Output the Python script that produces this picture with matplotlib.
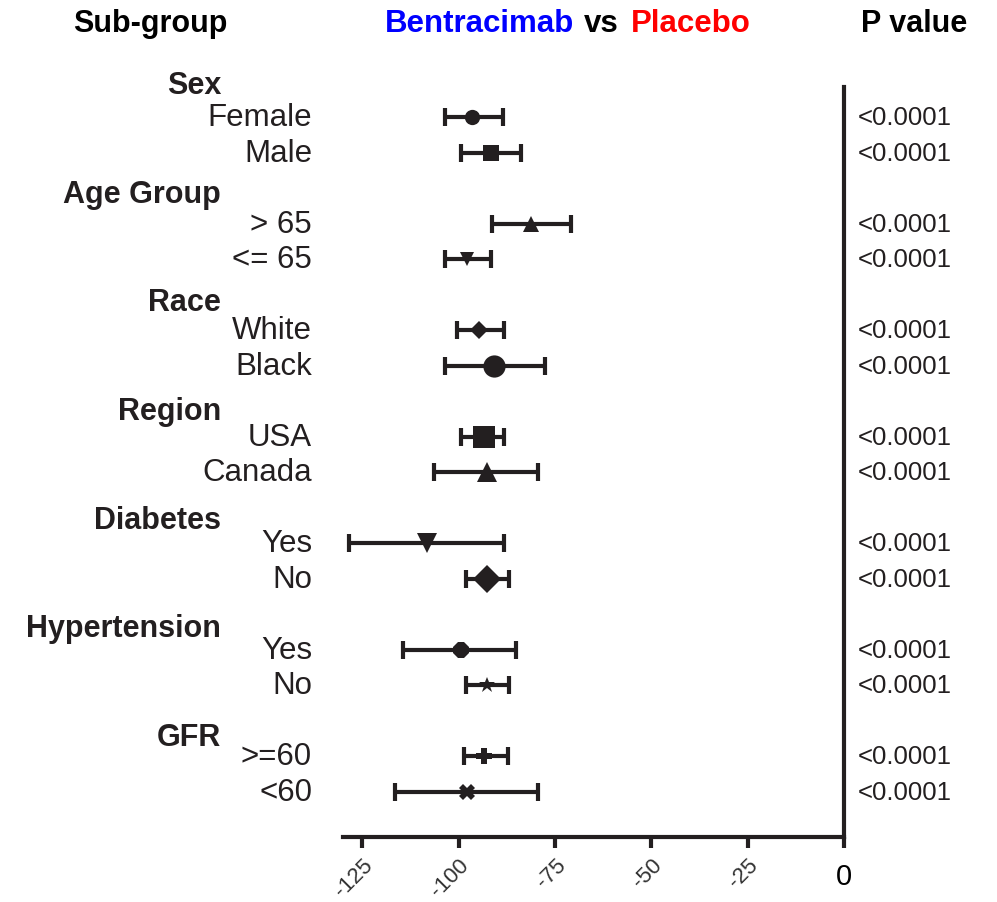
import numpy as np
import matplotlib
matplotlib.use("Agg")
import matplotlib.pyplot as plt
from matplotlib.transforms import blended_transform_factory, ScaledTranslation

plt.rcParams['font.family'] = ['Liberation Sans', 'DejaVu Sans']

# groups and their sub-groups (top to bottom)
groups = ["Sex", "Age Group", "Race", "Region", "Diabetes", "Hypertension", "GFR"]
subgroups = [["Female", "Male"], ["> 65", "<= 65"], ["White", "Black"],
             ["USA", "Canada"], ["Yes", "No"], ["Yes", "No"], [">=60", "<60"]]

# point estimate and lower/upper limits for each sub-group row
estimate = [-96.4, -91.7, -81.1, -97.7, -94.6, -90.7, -93.3, -92.7,
            -108.3, -92.7, -99.5, -92.5, -93.3, -97.9]
lower = [-103.6, -99.5, -91.2, -103.6, -100.5, -103.6, -99.5, -106.5,
         -128.5, -98.2, -114.5, -98.2, -98.7, -116.6]
upper = [-88.6, -83.7, -70.7, -91.5, -88.3, -77.5, -88.1, -79.3,
         -88.3, -87.0, -85.2, -86.8, -87.3, -79.3]
p_values = ["<0.0001"] * 14

xticks = [-125, -100, -75, -50, -25, 0]

markers = ['o', 's', '^', 'v', 'D', 'o', 's', '^', 'v', 'D', '8', '*', 'P', 'X']
msizes = [11, 11, 12, 10, 9, 16, 16, 14, 15, 14, 12, 12, 11, 11]

fig = plt.figure(figsize=(9.97, 9.03), dpi=100)
ax = fig.add_axes([0.344, 0.072, 0.5025, 0.8305])

dark = '#231f20'
rows = []
headers = []
for g, subs in enumerate(groups):
    headers.append(g * 3 + 0.1 + 0.06 * g)
    rows.extend([g * 3 + 1, g * 3 + 2])

for i, y in enumerate(rows):
    ax.errorbar(estimate[i], y, xerr=[[estimate[i] - lower[i]], [upper[i] - estimate[i]]],
                fmt='none', ecolor=dark, elinewidth=3, capsize=6.5, capthick=3)
    ax.plot(estimate[i], y, marker=markers[i], markersize=msizes[i], color=dark,
            markeredgewidth=0, linestyle='none', zorder=3)

ax.set_xlim(-130, 0)
ax.set_ylim(21.28, 0.15)

ax.spines['left'].set_visible(False)
ax.spines['top'].set_visible(False)
ax.spines['right'].set_linewidth(3)
ax.spines['bottom'].set_linewidth(3)
ax.spines['right'].set_color(dark)
ax.spines['bottom'].set_color(dark)
ax.set_yticks([])
ax.set_xticks(xticks)
ax.tick_params(axis='x', direction='out', length=8, width=3, color=dark, pad=4,
               labelsize=16, labelcolor='#333333')
labels = ax.set_xticklabels([str(t) for t in xticks])
for lab in labels[:-1]:
    lab.set_rotation(45)
    lab.set_ha('right')
    lab.set_va('top')
    lab.set_rotation_mode('anchor')
labels[-1].set_fontsize(21)
labels[-1].set_color('black')
labels[-1].set_transform(labels[-1].get_transform()
                         + ScaledTranslation(0, -8 / 100, fig.dpi_scale_trans))

trans = blended_transform_factory(fig.transFigure, ax.transData)
k = 0
for g, subs in enumerate(groups):
    ax.text(221 / 997, headers[g], groups[g], transform=trans, ha='right', va='center',
            fontsize=22, fontweight='bold', color=dark)
    for s in subgroups[g]:
        ax.text(312 / 997, rows[k], s, transform=trans, ha='right', va='center',
                fontsize=22.5, color=dark)
        ax.text(1.028, rows[k], p_values[k], transform=ax.get_yaxis_transform(),
                ha='left', va='center', fontsize=18.5, color=dark)
        k += 1

ty = 1 - 24 / 903
fig.text(150 / 997, ty, "Sub-group", ha='center', va='center', fontsize=22, fontweight='bold')
fig.text(385 / 997, ty, "Bentracimab", ha='left', va='center', fontsize=22.5,
         fontweight='bold', color='#0000ff')
fig.text(584 / 997, ty, "vs", ha='left', va='center', fontsize=22.5, fontweight='bold')
fig.text(631 / 997, ty, "Placebo", ha='left', va='center', fontsize=22.5,
         fontweight='bold', color='#ff0000')
fig.text(914 / 997, ty, "P value", ha='center', va='center', fontsize=22, fontweight='bold')

fig.savefig("out.png", dpi=100)
